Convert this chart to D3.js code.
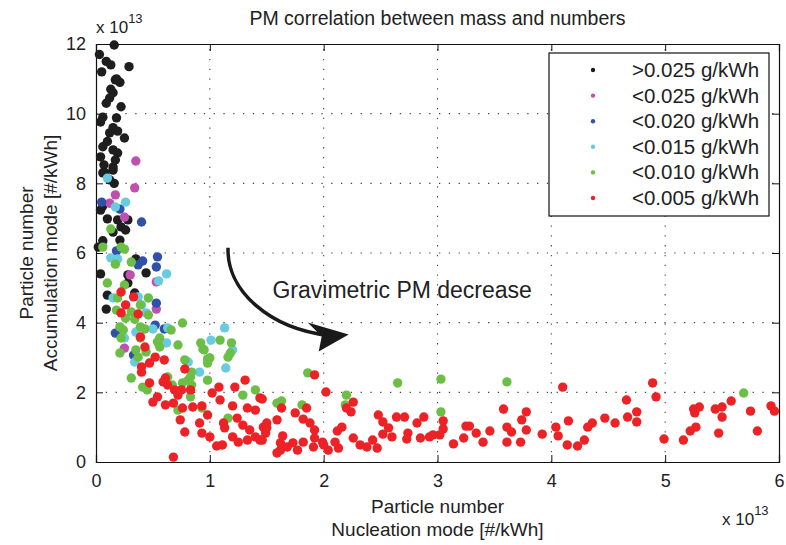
<!DOCTYPE html>
<html lang="en">
<head>
  <meta charset="UTF-8">
  <title>PM correlation between mass and numbers</title>
  <script src="https://d3js.org/d3.v7.min.js"></script>
  <style>
    body {
      margin: 0;
      background: white;
      font-family: 'Liberation Sans', Arial, Helvetica, sans-serif;
    }
    svg text { fill: #222; }
  </style>
</head>
<body>
  <div id="chart"></div>

  <script>
    // values in units of 1e13 #/kWh  [nucleation, accumulation]
    const black = [
      [0.16,11.97],[0.03,11.7],[0.09,11.5],[0.13,11.4],[0.05,11.2],[0.29,11.35],[0.17,10.97],[0.21,10.9],
      [0.13,10.7],[0.15,10.6],[0.12,10.45],[0.09,10.3],[0.06,9.9],[0.04,9.76],[0.18,9.88],[0.15,9.6],
      [0.19,9.5],[0.12,9.45],[0.25,9.3],[0.06,9.05],[0.15,8.96],[0.19,8.87],[0.04,8.76],[0.17,8.67],
      [0.07,8.53],[0.15,8.47],[0.06,8.3],[0.15,8.38],[0.08,8.3],[0.16,8.0],[0.04,7.23],[0.06,7.35],
      [0.1,6.98],[0.19,6.95],[0.28,6.95],[0.22,6.75],[0.26,6.66],[0.15,6.6],[0.06,6.35],[0.21,6.37],
      [0.02,6.17],[0.35,5.83],[0.04,5.4],[0.44,5.43],[0.28,5.37],[0.28,5.14],[0.1,4.79],[0.34,4.85],
      [0.09,4.39],[0.12,8.1],[0.1,9.2],[0.22,10.2],[0.18,11.0]
    ];
    const pink = [
      [0.35,8.64],[0.34,7.87],[0.17,7.67],[0.12,7.43],[0.25,7.03],[0.3,5.37],[0.53,5.17],[0.53,4.39],[0.25,3.27]
    ];
    const blue = [
      [0.05,7.46],[0.21,7.26],[0.4,6.89],[0.18,6.06],[0.54,5.89],[0.41,5.77],[0.37,5.66],[0.53,5.6],
      [0.53,4.56],[0.17,3.7],[0.52,3.93],[0.6,3.82],[0.33,3.07]
    ];
    const cyan = [
      [0.1,8.15],[0.26,7.46],[0.17,7.32],[0.13,5.86],[0.19,5.83],[0.62,5.4],[0.55,5.2],[0.15,4.71],
      [0.37,4.74],[0.4,4.51],[0.44,4.28],[0.63,3.85],[0.35,3.73],[0.5,3.82],[0.62,3.42],[0.25,3.56],
      [1.01,3.5],[0.34,2.87],[0.91,2.58],[1.13,3.85],[1.2,3.22],[0.81,2.87],[1.14,2.7]
    ];
    const green = [
      [0.13,6.69],[0.06,6.17],[0.22,6.17],[0.25,6.11],[0.31,5.74],[0.17,5.68],[0.1,5.14],[0.25,5.08],
      [0.19,4.71],[0.46,4.71],[0.39,4.51],[0.18,4.36],[0.31,4.31],[0.26,4.13],[0.34,4.1],[0.46,4.22],
      [0.76,3.99],[0.21,3.88],[0.24,3.79],[0.39,3.88],[0.43,3.82],[0.66,3.79],[0.22,3.56],[0.39,3.56],
      [0.56,3.56],[0.54,3.45],[0.72,3.36],[0.92,3.42],[0.94,3.24],[0.21,3.13],[0.35,3.22],[0.44,3.16],
      [0.56,3.3],[0.37,3.01],[0.78,2.93],[0.98,2.96],[0.63,2.44],[0.31,2.41],[0.83,2.44],[0.95,3.22],
      [1.0,2.99],[0.98,2.84],[0.84,2.58],[0.98,2.35],[1.09,3.5],[1.19,3.42],[1.18,3.13],[1.16,3.01],
      [0.67,2.21],[0.76,2.27],[0.81,2.35],[0.84,2.21],[0.83,1.87],[0.72,1.49],[0.93,1.55],[0.41,2.15],
      [0.45,2.07],[1.4,2.07],[1.29,1.92],[1.16,1.26],[1.59,1.69],[1.86,2.56],[1.6,1.69],[1.63,1.75],
      [1.81,1.64],[2.2,1.92],[2.19,1.64],[2.65,2.27],[3.03,2.38],[3.03,1.44],[3.61,2.3],[5.69,1.98]
    ];
    const red = [
      [0.22,4.88],[0.33,4.74],[0.26,4.51],[0.22,4.28],[0.37,4.25],[0.39,3.59],[0.43,3.3],[0.52,3.01],
      [0.6,2.93],[0.4,2.73],[0.47,2.84],[0.4,2.58],[0.78,2.67],[0.61,2.41],
      [0.59,2.3],[0.47,2.27],[0.63,2.21],[0.69,2.07],[0.75,2.07],[0.83,2.07],[0.72,1.92],[0.54,1.87],
      [0.5,1.72],[0.61,1.64],[0.68,1.69],[0.76,1.55],[0.85,1.58],[0.93,1.61],[1.02,1.98],[1.08,2.15],
      [1.09,1.78],[1.22,2.15],[1.31,2.35],[1.2,1.61],[0.98,1.35],[0.91,1.12],[0.74,1.21],[0.78,0.86],
      [0.93,0.83],[1.0,0.72],[1.12,1.12],[1.13,0.98],[1.06,0.46],[1.11,0.49],[1.24,1.26],[1.29,1.06],
      [1.35,0.92],[1.2,0.72],[1.25,0.57],[1.33,0.63],[1.4,0.72],[1.44,0.63],[1.49,0.83],[1.47,1.0],
      [1.5,1.12],[1.4,1.49],[1.33,1.55],[1.44,1.84],[0.68,0.14],
      [1.92,2.5],[2.02,2.01],[1.46,1.81],[1.63,1.55],[1.85,1.55],[2.26,1.72],[2.2,1.55],[2.24,1.44],
      [1.75,1.41],[1.59,1.21],[1.82,1.23],[1.88,1.12],[1.5,0.98],[1.92,0.92],[2.16,1.0],[2.12,0.89],
      [2.48,1.35],[1.64,0.75],[1.92,0.69],[2.26,0.69],[2.43,0.63],[1.46,0.63],[1.62,0.55],[1.73,0.55],
      [1.82,0.57],[1.99,0.57],[2.1,0.57],[2.32,0.49],[2.38,0.43],[2.47,0.4],[1.62,0.34],[1.77,0.34],
      [1.91,0.43],[2.04,0.34],[2.13,0.4],[1.59,0.26],[2.0,0.49],[1.68,0.43],
      [2.64,1.29],[2.52,1.15],[2.57,0.98],[2.52,0.8],[2.6,0.72],[2.71,1.29],[2.74,0.83],[2.73,0.66],
      [2.82,1.12],[2.88,1.29],[2.85,0.69],[2.93,0.72],[2.96,0.78],[3.02,0.78],[3.05,0.95],[3.05,1.18],
      [3.14,0.52],[3.23,0.69],[3.25,1.03],[3.28,1.03],[3.34,0.83],[3.4,0.57],[3.46,0.89],[3.58,1.52],
      [3.61,1.0],[3.65,0.86],[3.61,0.57],[3.73,0.57],[3.74,1.21],[3.78,1.44],[3.78,0.92],
      [3.92,0.8],[4.04,1.0],[4.06,0.75],[4.1,2.15],[4.15,1.18],[4.14,0.49],[4.23,0.46],[4.29,0.63],
      [4.32,1.0],[4.36,1.12],[4.47,1.26],[4.56,1.12],[4.66,1.78],[4.67,1.29],[4.75,1.44],[4.75,1.15],
      [4.89,2.27],[4.92,1.87],[4.99,0.66],[5.16,0.63],[5.22,0.89],[5.27,1.0],[5.25,1.52],[5.3,1.58],
      [5.26,1.41],[5.44,1.52],[5.5,1.58],[5.5,1.29],[5.47,0.83],[5.58,1.75],[5.75,1.46],[5.81,0.89],
      [5.93,1.61],[5.96,1.46]
    ];

    const seriesNames = [">0.025 g/kWh", "<0.025 g/kWh", "<0.020 g/kWh", "<0.015 g/kWh", "<0.010 g/kWh", "<0.005 g/kWh"];
    const seriesColors = ["#1e1e1e", "#c050ae", "#2f52a8", "#68cbe0", "#6cbf46", "#ec2227"];
    const seriesData = [black, pink, blue, cyan, green, red];
    const xTicks = [0, 1, 2, 3, 4, 5, 6];
    const yTicks = [0, 2, 4, 6, 8, 10, 12];

    const width = 786, height = 545;
    const margin = {top: 44, right: 7, bottom: 83, left: 96};

    const svg = d3.select("#chart").append("svg")
      .attr("width", width).attr("height", height);

    const x = d3.scaleLinear().domain([0, 6]).range([margin.left, width - margin.right]);
    const y = d3.scaleLinear().domain([0, 12]).range([height - margin.bottom, margin.top]);

    // dotted grid
    const grid = svg.append("g").attr("stroke", "#444").attr("stroke-width", 1.1)
      .attr("stroke-dasharray", "1.3,8.5");
    grid.selectAll(".gx").data(xTicks.slice(1, -1)).enter().append("line")
      .attr("x1", d => x(d)).attr("x2", d => x(d)).attr("y1", y(0)).attr("y2", y(12));
    grid.selectAll(".gy").data(yTicks.slice(1, -1)).enter().append("line")
      .attr("x1", x(0)).attr("x2", x(6)).attr("y1", d => y(d)).attr("y2", d => y(d));

    // axes (ticks inward on all sides)
    const tickLen = 7;
    svg.append("g").attr("transform", `translate(0,${y(0)})`)
      .call(d3.axisBottom(x).tickValues(xTicks).tickSize(-tickLen).tickPadding(12).tickFormat(d3.format("d")));
    svg.append("g").attr("transform", `translate(0,${y(12)})`)
      .call(d3.axisTop(x).tickValues(xTicks).tickSize(-tickLen).tickFormat(""));
    svg.append("g").attr("transform", `translate(${x(0)},0)`)
      .call(d3.axisLeft(y).tickValues(yTicks).tickSize(-tickLen).tickPadding(10).tickFormat(d3.format("d")));
    svg.append("g").attr("transform", `translate(${x(6)},0)`)
      .call(d3.axisRight(y).tickValues(yTicks).tickSize(-tickLen).tickFormat(""));
    svg.selectAll(".domain").attr("stroke", "#111").attr("stroke-width", 1.2);
    svg.selectAll(".tick line").attr("stroke", "#111");
    svg.selectAll(".tick text").attr("font-size", 18).attr("font-family", "'Liberation Sans', Arial, sans-serif").attr("fill", "#222");

    // points
    seriesData.forEach((pts, i) => {
      svg.append("g").selectAll("circle").data(pts).enter().append("circle")
        .attr("cx", d => x(d[0]))
        .attr("cy", d => y(d[1]))
        .attr("r", 4.7)
        .attr("fill", seriesColors[i]);
    });

    // exponent labels
    const expTop = svg.append("text").attr("x", x(0)).attr("y", 33).attr("font-size", 17);
    expTop.append("tspan").text("x 10");
    expTop.append("tspan").attr("dy", -10).attr("font-size", 13).text("13");
    const expBot = svg.append("text").attr("x", 722).attr("y", 525).attr("font-size", 17);
    expBot.append("tspan").text("x 10");
    expBot.append("tspan").attr("dy", -10).attr("font-size", 13).text("13");

    // title
    svg.append("text").attr("x", (x(0) + x(6)) / 2).attr("y", 25)
      .attr("text-anchor", "middle").attr("font-size", 19.5)
      .text("PM correlation between mass and numbers");

    // axis titles
    const xMid = (x(0) + x(6)) / 2;
    svg.append("text").attr("x", xMid).attr("y", 513)
      .attr("text-anchor", "middle").attr("font-size", 19).text("Particle number");
    svg.append("text").attr("x", xMid).attr("y", 536)
      .attr("text-anchor", "middle").attr("font-size", 19).text("Nucleation mode [#/kWh]");
    const yMid = (y(0) + y(12)) / 2;
    svg.append("text").attr("transform", `translate(33,${yMid}) rotate(-90)`)
      .attr("text-anchor", "middle").attr("font-size", 19).text("Particle number");
    svg.append("text").attr("transform", `translate(57,${yMid}) rotate(-90)`)
      .attr("text-anchor", "middle").attr("font-size", 19).text("Accumulation mode [#/kWh]");

    // annotation arrow
    const arrowStart = [1.16, 6.15], arrowEnd = [2.22, 3.66];
    const sx = x(arrowStart[0]), sy = y(arrowStart[1]);
    const ex = x(arrowEnd[0]), ey = y(arrowEnd[1]);
    svg.append("path")
      .attr("d", `M${sx},${sy} A${ex - sx},${ey - sy} 0 0 0 ${ex - 20},${ey + 1}`)
      .attr("fill", "none").attr("stroke", "#1a1a1a").attr("stroke-width", 3.5);
    svg.append("path")
      .attr("d", `M${ex},${ey} L${ex - 41},${ey - 12} L${ex - 27},${ey + 2} L${ex - 30},${ey + 17} Z`)
      .attr("fill", "#1a1a1a");
    svg.append("text").attr("x", x(1.55)).attr("y", y(4.71))
      .attr("font-size", 23).text("Gravimetric PM decrease");

    // legend
    const lg = svg.append("g").attr("transform", "translate(549,53)");
    lg.append("rect").attr("width", 220).attr("height", 163)
      .attr("fill", "white").attr("stroke", "#111").attr("stroke-width", 1.2);
    seriesNames.forEach((name, i) => {
      const row = lg.append("g").attr("transform", `translate(0,${17 + i * 25.6})`);
      row.append("circle").attr("cx", 44).attr("cy", 0).attr("r", 2.2).attr("fill", seriesColors[i]);
      row.append("text").attr("x", 83).attr("y", 7).attr("font-size", 20.5).text(name);
    });
  </script>
</body>
</html>
